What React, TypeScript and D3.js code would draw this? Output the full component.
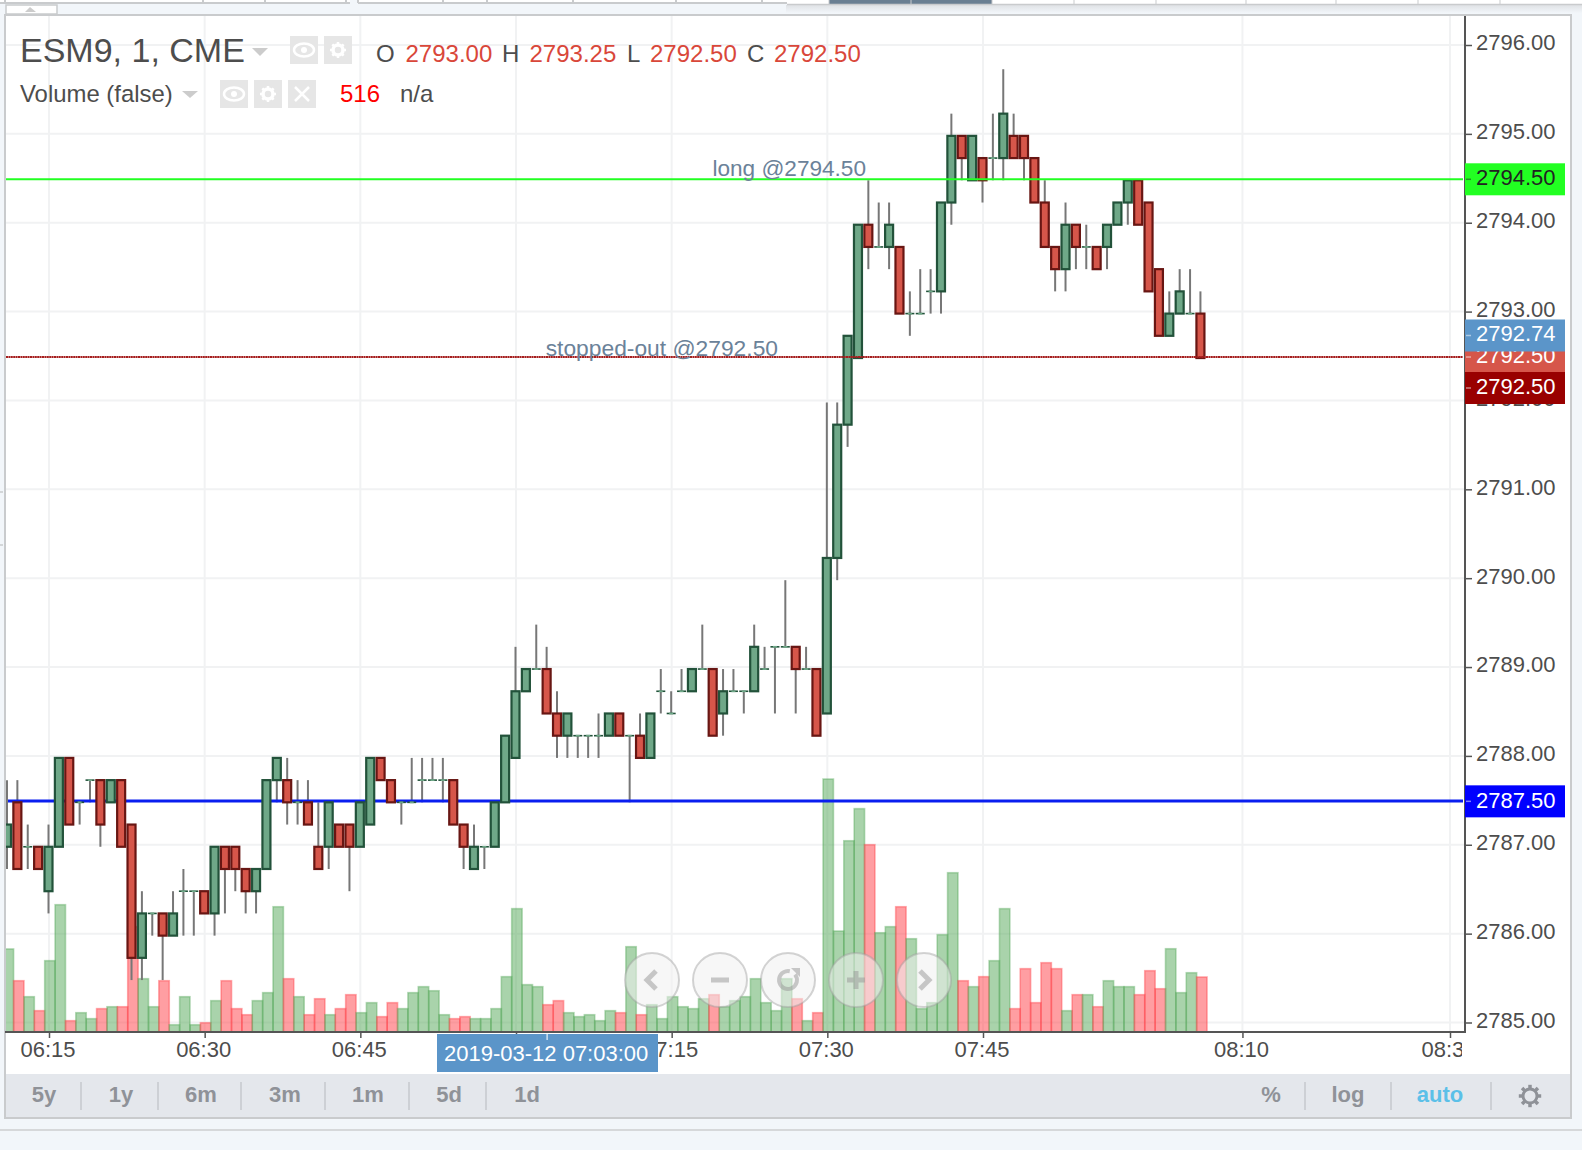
import React, { useEffect, useRef } from "react";
import * as d3 from "d3";

const FONT = "'Liberation Sans', Arial, sans-serif";

// first candle is 06:11, one bar per minute
const startTime = "2019-03-12T06:11:00Z";

const opens = [
  2787, 2787.5, 2787, 2787, 2786.5, 2787, 2788, 2787.5, 2787.75, 2787.75, 2787.5, 2787.75, 2787.25, 2785.75, 2786.25, 2786.25,
  2786, 2786.5, 2786.5, 2786.5, 2786.25, 2787, 2787, 2786.75, 2786.5, 2786.75, 2787.75, 2787.75, 2787.5, 2787.5, 2787, 2787,
  2787.25, 2787.25, 2787, 2787.25, 2788, 2787.75, 2787.5, 2787.5, 2787.75, 2787.75, 2787.75, 2787.75, 2787.25, 2786.75, 2787, 2787,
  2787.5, 2788, 2788.75, 2789, 2789, 2788.5, 2788.25, 2788.25, 2788.25, 2788.25, 2788.25, 2788.5, 2788.25, 2788.25, 2788, 2788.75,
  2788.5, 2788.75, 2788.75, 2789, 2789, 2788.5, 2788.75, 2788.75, 2788.75, 2789, 2789.25, 2789.25, 2789.25, 2789, 2789, 2788.5,
  2790.25, 2791.75, 2792.5, 2794, 2793.75, 2793.75, 2793.75, 2793, 2793, 2793.25, 2793.25, 2794.25, 2795, 2794.5, 2794.75, 2794.75,
  2794.75, 2795, 2795, 2794.75, 2794.25, 2793.75, 2793.5, 2794, 2793.75, 2793.75, 2793.75, 2794, 2794.25, 2794.5, 2794.25, 2793.5,
  2792.75, 2793, 2793, 2793,
];
const highs = [
  2787.75, 2787.75, 2787.25, 2787, 2787.25, 2788, 2788, 2787.5, 2787.75, 2787.75, 2787.75, 2787.75, 2787.25, 2786.5, 2786.25, 2786.25,
  2786.5, 2786.75, 2786.5, 2786.5, 2787, 2787, 2787, 2786.75, 2786.75, 2787.75, 2788, 2788, 2787.75, 2787.75, 2787.5, 2787.5,
  2787.25, 2787.25, 2787.5, 2788, 2788, 2787.75, 2787.5, 2788, 2788, 2788, 2788, 2787.75, 2787.25, 2787.25, 2787, 2787.5,
  2788.25, 2789.25, 2789, 2789.5, 2789.25, 2788.75, 2788.5, 2788.25, 2788.25, 2788.5, 2788.5, 2788.5, 2788.25, 2788.5, 2788.5, 2789,
  2788.75, 2789, 2789, 2789.5, 2789, 2789, 2789, 2788.75, 2789.5, 2789.25, 2789.25, 2790, 2789.25, 2789.25, 2789, 2792,
  2792, 2792.75, 2794, 2794.5, 2794.25, 2794.25, 2793.75, 2793.25, 2793.5, 2793.5, 2794.25, 2795.25, 2795, 2795, 2794.75, 2795.25,
  2795.75, 2795.25, 2795, 2794.75, 2794.5, 2793.75, 2794.25, 2794, 2794, 2793.75, 2794, 2794.25, 2794.5, 2794.5, 2794.25, 2793.5,
  2793.25, 2793.5, 2793.5, 2793.25,
];
const lows = [
  2786.75, 2786.75, 2786.75, 2786.75, 2786.25, 2787, 2787.25, 2787.25, 2787.5, 2787, 2787.5, 2787, 2785.5, 2785.5, 2786, 2785.5,
  2786, 2786, 2786, 2786.25, 2786, 2786.25, 2786.5, 2786.25, 2786.25, 2786.75, 2787.5, 2787.25, 2787.25, 2787.25, 2786.75, 2786.75,
  2787, 2786.5, 2787, 2787.25, 2787.75, 2787.5, 2787.25, 2787.5, 2787.5, 2787.75, 2787.5, 2787.25, 2786.75, 2786.75, 2786.75, 2787,
  2787.5, 2788, 2788.75, 2789, 2788.5, 2788, 2788, 2788, 2788, 2788, 2788.25, 2788.25, 2787.5, 2788, 2788, 2788.5,
  2788.5, 2788.75, 2788.75, 2789, 2788.25, 2788.25, 2788.75, 2788.5, 2788.75, 2789, 2788.5, 2789.25, 2788.5, 2789, 2788.25, 2788.5,
  2790, 2791.5, 2792.5, 2793.5, 2793.75, 2793.5, 2793, 2792.75, 2793, 2793, 2793, 2794, 2794.5, 2794.5, 2794.25, 2794.5,
  2794.5, 2794.75, 2794.5, 2794.25, 2793.75, 2793.25, 2793.25, 2793.5, 2793.5, 2793.5, 2793.5, 2794, 2794, 2794, 2793.25, 2792.75,
  2792.75, 2793, 2793, 2792.5,
];
const closes = [
  2787.25, 2786.75, 2787, 2786.75, 2787, 2788, 2787.25, 2787.5, 2787.75, 2787.25, 2787.75, 2787, 2785.75, 2786.25, 2786.25, 2786,
  2786.25, 2786.5, 2786.5, 2786.25, 2787, 2786.75, 2786.75, 2786.5, 2786.75, 2787.75, 2788, 2787.5, 2787.5, 2787.25, 2786.75, 2787.5,
  2787, 2787, 2787.5, 2788, 2787.75, 2787.5, 2787.5, 2787.5, 2787.75, 2787.75, 2787.75, 2787.25, 2787, 2787, 2787, 2787.5,
  2788.25, 2788.75, 2789, 2789, 2788.5, 2788.25, 2788.5, 2788.25, 2788.25, 2788.25, 2788.5, 2788.25, 2788.25, 2788, 2788.5, 2788.75,
  2788.5, 2788.75, 2789, 2789, 2788.25, 2788.75, 2788.75, 2788.75, 2789.25, 2789, 2789.25, 2789.25, 2789, 2789, 2788.25, 2790.25,
  2791.75, 2792.75, 2794, 2793.75, 2793.75, 2794, 2793, 2793, 2793, 2793.25, 2794.25, 2795, 2794.75, 2795, 2794.5, 2794.75,
  2795.25, 2794.75, 2794.75, 2794.25, 2793.75, 2793.5, 2794, 2793.75, 2793.75, 2793.5, 2794, 2794.25, 2794.5, 2794, 2793.25, 2792.75,
  2793, 2793.25, 2793, 2792.5,
];
const volumes = [
  779, 481, 331, 200, 669, 1194, 106, 181, 125, 219, 237, 237, 988, 500, 237, 481,
  68, 331, 68, 87, 294, 481, 219, 162, 294, 369, 1175, 500, 331, 162, 312, 162,
  219, 350, 181, 275, 144, 275, 219, 369, 425, 387, 162, 125, 144, 125, 125, 219,
  519, 1157, 444, 425, 256, 294, 181, 144, 162, 106, 200, 181, 800, 162, 256, 125,
  331, 237, 219, 312, 350, 237, 294, 331, 500, 275, 200, 500, 312, 106, 181, 2373,
  947, 1794, 2095, 1757, 931, 988, 1175, 875, 219, 275, 913, 1494, 481, 425, 519, 669,
  1157, 219, 594, 275, 650, 594, 200, 350, 350, 237, 481, 425, 425, 350, 575, 406,
  781, 369, 556, 516,
];

const priceTicks = [2785, 2786, 2787, 2788, 2789, 2790, 2791, 2792, 2793, 2794, 2795, 2796];
const timeTicks = ["06:15", "06:30", "06:45", "07:00", "07:15", "07:30", "07:45", "08:10", "08:30"];
const rangeButtons = ["5y", "1y", "6m", "3m", "1m", "5d", "1d"];
const rangeButtonX = [44, 121, 201, 285, 368, 449, 527];
const rangeDividerX = [81, 158, 241, 325, 409, 486];
const ohlcLabels = ["O", "H", "L", "C"];
const ohlcValues = ["2793.00", "2793.25", "2792.50", "2792.50"];
const navIcons = ["prev", "minus", "reset", "plus", "next"];

const toDate = (hhmm: string) => new Date(`2019-03-12T${hhmm}:00Z`);

const App: React.FC = () => {
  const svgRef = useRef<SVGSVGElement | null>(null);

  useEffect(() => {
    if (!svgRef.current) return;
    const svg = d3.select(svgRef.current);
    svg.selectAll("*").remove();
    svg.style("font-family", FONT);

    const panel = { left: 5, right: 1571, top: 15, bottom: 1118 };
    const plot = { left: 6, right: 1465, top: 16, bottom: 1032 };

    const x = d3.scaleUtc().domain([toDate("06:15"), toDate("07:45")]).range([49, 983]);
    const y = d3.scaleLinear().domain([2785, 2796]).range([1022.5, 45]);
    const vol = d3.scaleLinear().domain([0, 2400]).range([plot.bottom, plot.bottom - 2400 / 9.38]);

    const t0 = new Date(startTime).getTime();
    const bars = opens.map((o, i) => ({
      time: new Date(t0 + i * 60000),
      o,
      h: highs[i],
      l: lows[i],
      c: closes[i],
      v: volumes[i],
      up: closes[i] >= o,
    }));

    // page + panel frame
    svg.append("rect").attr("width", 1582).attr("height", 1150).attr("fill", "#f2f6fa");
    svg.append("line").attr("x1", 0).attr("x2", 1582).attr("y1", 1130).attr("y2", 1130)
      .attr("stroke", "#d6d8da").attr("stroke-width", 2);
    svg.append("rect").attr("x", panel.left).attr("y", panel.top)
      .attr("width", panel.right - panel.left).attr("height", panel.bottom - panel.top)
      .attr("fill", "#fff").attr("stroke", "#c9cbcd").attr("stroke-width", 2);

    // strip of toolbar tabs cut off at the top
    const defs = svg.append("defs");
    const shadow = defs.append("linearGradient").attr("id", "tab-shadow").attr("x1", 0).attr("x2", 0).attr("y1", 0).attr("y2", 1);
    shadow.append("stop").attr("offset", "0%").attr("stop-color", "#dfe2e5");
    shadow.append("stop").attr("offset", "100%").attr("stop-color", "#f2f6fa");
    svg.append("line").attr("x1", 0).attr("x2", 350).attr("y1", 3).attr("y2", 3).attr("stroke", "#c9cbcd").attr("stroke-width", 2);
    svg.append("line").attr("x1", 358).attr("x2", 787).attr("y1", 3).attr("y2", 3).attr("stroke", "#c9cbcd").attr("stroke-width", 2);
    svg.append("rect").attr("x", 0).attr("y", 0).attr("width", 350).attr("height", 2).attr("fill", "#fff");
    svg.append("rect").attr("x", 358).attr("y", 0).attr("width", 429).attr("height", 2).attr("fill", "#fff");
    [5, 203, 265, 346, 358, 443, 487, 573, 676, 762].forEach(px => {
      svg.append("line").attr("x1", px).attr("x2", px).attr("y1", 0).attr("y2", 3).attr("stroke", "#c9cbcd").attr("stroke-width", 2);
    });
    svg.append("rect").attr("x", 786).attr("y", 5).attr("width", 796).attr("height", 8).attr("fill", "url(#tab-shadow)");
    svg.append("rect").attr("x", 787).attr("y", 0).attr("width", 795).attr("height", 4).attr("fill", "#fff");
    svg.append("rect").attr("x", 829).attr("y", 0).attr("width", 163).attr("height", 4).attr("fill", "#6a7f92");
    svg.append("line").attr("x1", 787).attr("x2", 1582).attr("y1", 4.5).attr("y2", 4.5).attr("stroke", "#c9cbcd").attr("stroke-width", 1.5);
    [829, 911, 992, 1074, 1156, 1246, 1336, 1418, 1500].forEach(px => {
      svg.append("line").attr("x1", px).attr("x2", px).attr("y1", 0).attr("y2", 4).attr("stroke", "#c9cbcd");
    });
    svg.append("rect").attr("x", 6).attr("y", 5).attr("width", 51).attr("height", 9).attr("fill", "#fff").attr("stroke", "#c9cbcd").attr("stroke-width", 1.5);
    svg.append("path").attr("d", "M25,12 L30,7 L36,12 Z").attr("fill", "#ccc");
    svg.append("line").attr("x1", 0).attr("x2", 3).attr("y1", 492).attr("y2", 492).attr("stroke", "#c9cbcd").attr("stroke-width", 1.5);
    svg.append("line").attr("x1", 0).attr("x2", 3).attr("y1", 545).attr("y2", 545).attr("stroke", "#c9cbcd").attr("stroke-width", 1.5);

    defs.append("clipPath").attr("id", "plot-clip").append("rect")
      .attr("x", plot.left).attr("y", plot.top).attr("width", plot.right - plot.left).attr("height", plot.bottom - plot.top);
    defs.append("clipPath").attr("id", "time-clip").append("rect")
      .attr("x", plot.left).attr("y", plot.bottom).attr("width", 1462 - plot.left).attr("height", 50);

    // grid
    const grid = svg.append("g");
    grid.selectAll("line.h").data(priceTicks).join("line").attr("class", "h")
      .attr("x1", plot.left).attr("x2", plot.right).attr("y1", d => y(d)).attr("y2", d => y(d))
      .attr("stroke", "#f1f2f3").attr("stroke-width", 2);
    grid.selectAll("line.v").data(timeTicks).join("line").attr("class", "v")
      .attr("x1", d => x(toDate(d))).attr("x2", d => x(toDate(d))).attr("y1", plot.top).attr("y2", plot.bottom)
      .attr("stroke", "#f1f2f3").attr("stroke-width", 2);

    const chart = svg.append("g").attr("clip-path", "url(#plot-clip)");

    // volume
    chart.append("g").selectAll("rect").data(bars).join("rect")
      .attr("x", d => x(d.time) - 4.3)
      .attr("y", d => vol(d.v))
      .attr("width", 10.4)
      .attr("height", d => plot.bottom - vol(d.v) + 3)
      .attr("fill", d => (d.up ? "rgba(84,168,88,0.5)" : "rgba(255,62,70,0.5)"))
      .attr("stroke", d => (d.up ? "rgba(84,168,88,0.42)" : "rgba(255,62,70,0.42)"))
      .attr("stroke-width", 1.6);

    // horizontal levels
    const level = (p: number, color: string, w: number, dash?: string, dy = 0) => {
      const l = svg.append("line").attr("x1", p === 2787.5 ? 8 : plot.left).attr("x2", 1463)
        .attr("y1", y(p) + dy).attr("y2", y(p) + dy).attr("stroke", color).attr("stroke-width", w);
      if (dash) l.attr("stroke-dasharray", dash);
    };

    // candles
    const yOff = 2;
    const candles = svg.append("g").attr("clip-path", "url(#plot-clip)");
    candles.selectAll("line.wick").data(bars).join("line").attr("class", "wick")
      .attr("x1", d => x(d.time) - 0.5).attr("x2", d => x(d.time) - 0.5)
      .attr("y1", d => y(d.h) + yOff).attr("y2", d => y(d.l) + yOff)
      .attr("stroke", "#777").attr("stroke-width", 2);
    level(2787.5, "#0a1ef0", 3, undefined, 0.6);
    const bodies = svg.append("g").attr("clip-path", "url(#plot-clip)");
    const solid = bars.filter(d => d.o !== d.c);
    const doji = bars.filter(d => d.o === d.c);
    bodies.selectAll("rect.body").data(solid).join("rect").attr("class", "body")
      .attr("x", d => x(d.time) - 4.5)
      .attr("y", d => y(Math.max(d.o, d.c)) + yOff)
      .attr("width", 8)
      .attr("height", d => Math.abs(y(d.o) - y(d.c)))
      .attr("fill", d => (d.up ? "#6fa888" : "#d6564a"))
      .attr("stroke", d => (d.up ? "#22523a" : "#681613"))
      .attr("stroke-width", 2.2);
    bodies.selectAll("line.doji").data(doji).join("line").attr("class", "doji")
      .attr("x1", d => x(d.time) - 5).attr("x2", d => x(d.time) + 4)
      .attr("y1", d => y(d.o) + yOff).attr("y2", d => y(d.o) + yOff)
      .attr("stroke", "#22523a").attr("stroke-width", 1.6);
    bodies.selectAll("line.dojiIn").data(doji).join("line").attr("class", "dojiIn")
      .attr("x1", d => x(d.time) - 2.5).attr("x2", d => x(d.time) + 1.5)
      .attr("y1", d => y(d.o) + yOff).attr("y2", d => y(d.o) + yOff)
      .attr("stroke", "#6fa888").attr("stroke-width", 1.8);

    level(2794.5, "#22ff22", 2, undefined, 1);
    level(2792.5, "#a51d1d", 2, "2 0.4", 1);

    svg.append("text").attr("x", 866).attr("y", 176).attr("text-anchor", "end")
      .attr("font-size", 22.6).attr("fill", "#6b8299").text("long @2794.50");
    svg.append("text").attr("x", 778).attr("y", 356).attr("text-anchor", "end")
      .attr("font-size", 22.8).attr("fill", "#6b8299").text("stopped-out @2792.50");

    // axes
    const yAxis = svg.append("g").attr("transform", `translate(${plot.right},0)`)
      .call(d3.axisRight(y).tickValues(priceTicks).tickFormat(d => d3.format(".2f")(d as number)).tickSize(7).tickPadding(4));
    yAxis.select(".domain").attr("d", `M0,${plot.top}V${plot.bottom}`).attr("stroke", "#555").attr("stroke-width", 2);
    yAxis.selectAll(".tick line").attr("stroke", "#555").attr("stroke-width", 1.5);
    yAxis.selectAll(".tick text").attr("font-family", FONT).attr("font-size", 22).attr("fill", "#4d4d4d").attr("dy", "0.22em");

    const xAxisWrap = svg.append("g").attr("clip-path", "url(#time-clip)");
    const xAxis = xAxisWrap.append("g").attr("transform", `translate(0,${plot.bottom})`)
      .call(d3.axisBottom(x).tickValues(timeTicks.map(toDate)).tickFormat(d => d3.utcFormat("%H:%M")(d as Date)).tickSize(6).tickPadding(3));
    xAxis.select(".domain").remove();
    xAxis.selectAll(".tick line").attr("stroke", "#555").attr("stroke-width", 1.5);
    xAxis.selectAll(".tick text").attr("font-family", FONT).attr("font-size", 22).attr("fill", "#4d4d4d").attr("dx", -1.5);
    svg.append("line").attr("x1", panel.left).attr("x2", plot.right + 1).attr("y1", plot.bottom).attr("y2", plot.bottom)
      .attr("stroke", "#555").attr("stroke-width", 2);

    // price flags on the axis
    const flag = (cy: number, fill: string, label: string, color = "#fff", textDy = 5.5) => {
      const g = svg.append("g");
      g.append("rect").attr("x", plot.right).attr("y", cy - 16).attr("width", 100).attr("height", 32).attr("fill", fill);
      g.append("line").attr("x1", plot.right + 1).attr("x2", plot.right + 6).attr("y1", cy).attr("y2", cy)
        .attr("stroke", color).attr("stroke-opacity", 0.5).attr("stroke-width", 1.5);
      g.append("text").attr("x", plot.right + 11).attr("y", cy + textDy).attr("font-size", 22).attr("fill", color).text(label);
    };
    flag(y(2794.5) + 1, "#22ff22", "2794.50", "#222");
    flag(y(2787.5) + 1, "#0000ff", "2787.50", "#fff", 6.5);
    flag(y(2792.5) + 1, "#d6564a", "2792.50");
    flag(388, "#990000", "2792.50");
    flag(335.5, "#5b95c9", "2792.74");

    // crosshair time flag
    const crossX = x(toDate("07:03"));
    svg.append("rect").attr("x", 437).attr("y", 1034).attr("width", 221).attr("height", 38).attr("fill", "#5b95c9");
    svg.append("line").attr("x1", crossX).attr("x2", crossX).attr("y1", 1034).attr("y2", 1040).attr("stroke", "#cfe0f0").attr("stroke-width", 1.5);
    svg.append("text").attr("x", 444).attr("y", 1061).attr("font-size", 22).attr("fill", "#fff").text("2019-03-12 07:03:00");

    // legend
    const legend = svg.append("g");
    legend.append("text").attr("x", 20).attr("y", 62).attr("font-size", 34).attr("fill", "#4d4d4d").text("ESM9, 1, CME");
    legend.append("path").attr("d", "M252,48 H268 L260,56 Z").attr("fill", "#ccc");
    legend.append("text").attr("x", 20).attr("y", 102).attr("font-size", 23.9).attr("fill", "#4d4d4d").text("Volume (false)");
    legend.append("path").attr("d", "M182,91 H198 L190,98 Z").attr("fill", "#ccc");

    const ohlcX = [376, 502, 627, 747];
    const valueX = [405.5, 529.5, 650, 774];
    ohlcLabels.forEach((l, i) => {
      legend.append("text").attr("x", ohlcX[i]).attr("y", 62).attr("font-size", 24).attr("fill", "#4d4d4d").text(l);
      legend.append("text").attr("x", valueX[i]).attr("y", 62).attr("font-size", 24).attr("fill", "#d9473a").text(ohlcValues[i]);
    });
    legend.append("text").attr("x", 340).attr("y", 102).attr("font-size", 24).attr("fill", "#ff0000").text("516");
    legend.append("text").attr("x", 400).attr("y", 102).attr("font-size", 24).attr("fill", "#4d4d4d").text("n/a");

    const gear = (g: d3.Selection<any, unknown, null, undefined>, cx: number, cy: number, r: number, color: string, ring = 0.7) => {
      g.append("circle").attr("cx", cx).attr("cy", cy).attr("r", r).attr("fill", "none")
        .attr("stroke", color).attr("stroke-width", r * ring);
      d3.range(8).forEach(i => {
        const a = (i * Math.PI) / 4;
        g.append("line")
          .attr("x1", cx + Math.cos(a) * r).attr("y1", cy + Math.sin(a) * r)
          .attr("x2", cx + Math.cos(a) * (r * 1.6)).attr("y2", cy + Math.sin(a) * (r * 1.6))
          .attr("stroke", color).attr("stroke-width", r * 0.5);
      });
    };
    const eye = (g: d3.Selection<any, unknown, null, undefined>, cx: number, cy: number) => {
      g.append("ellipse").attr("cx", cx).attr("cy", cy).attr("rx", 10).attr("ry", 6.5).attr("fill", "none").attr("stroke", "#fff").attr("stroke-width", 2.5);
      g.append("circle").attr("cx", cx).attr("cy", cy).attr("r", 3).attr("fill", "#fff");
    };
    const iconBox = (cx: number, cy: number) => legend.append("rect").attr("x", cx - 14).attr("y", cy - 14)
      .attr("width", 28).attr("height", 28).attr("fill", "#e6e6e6");
    iconBox(304, 50); eye(legend, 304, 50);
    iconBox(338, 50); gear(legend, 338, 50, 5, "#fff");
    iconBox(234, 94); eye(legend, 234, 94);
    iconBox(268, 94); gear(legend, 268, 94, 5, "#fff");
    iconBox(302, 94);
    legend.append("path").attr("d", "M295,87 L309,101 M309,87 L295,101").attr("stroke", "#fff").attr("stroke-width", 2.5);

    // zoom / pan buttons over the volume
    const navX = d3.scalePoint<string>().domain(navIcons).range([652, 924]);
    const navY = 980;
    const iconColor = "rgba(150,150,150,0.5)";
    navIcons.forEach(name => {
      const cx = navX(name) ?? 0;
      const g = svg.append("g");
      g.append("circle").attr("cx", cx).attr("cy", navY).attr("r", 27)
        .attr("fill", "rgba(240,240,240,0.55)").attr("stroke", "rgba(160,160,160,0.45)").attr("stroke-width", 2);
      const stroke = (d: string, w = 5) => g.append("path").attr("d", d).attr("fill", "none").attr("stroke", iconColor).attr("stroke-width", w);
      if (name === "prev") stroke(`M${cx + 4},${navY - 9} L${cx - 5},${navY} L${cx + 4},${navY + 9}`);
      if (name === "next") stroke(`M${cx - 4},${navY - 9} L${cx + 5},${navY} L${cx - 4},${navY + 9}`);
      if (name === "minus") stroke(`M${cx - 9},${navY} H${cx + 9}`);
      if (name === "plus") stroke(`M${cx - 9},${navY} H${cx + 9} M${cx},${navY - 9} V${navY + 9}`);
      if (name === "reset") {
        g.append("path").attr("d", d3.arc()({ innerRadius: 7, outerRadius: 11, startAngle: 0.9, endAngle: 2 * Math.PI + 0.2 }) as string)
          .attr("transform", `translate(${cx},${navY})`).attr("fill", iconColor);
        g.append("path").attr("d", `M${cx + 3},${navY - 12} L${cx + 12},${navY - 12} L${cx + 12},${navY - 3} Z`).attr("fill", iconColor);
      }
    });

    // range bar
    const bar = svg.append("g");
    bar.append("rect").attr("x", panel.left + 1).attr("y", 1074).attr("width", panel.right - panel.left - 2).attr("height", 43).attr("fill", "#e4e7ec");
    const barText = (tx: number, label: string, color = "#8f9298") =>
      bar.append("text").attr("x", tx).attr("y", 1102).attr("text-anchor", "middle").attr("font-size", 22)
        .attr("font-weight", "bold").attr("fill", color).text(label);
    rangeButtons.forEach((b, i) => barText(rangeButtonX[i], b));
    rangeDividerX.concat([1305, 1391, 1491]).forEach(px => {
      bar.append("line").attr("x1", px).attr("x2", px).attr("y1", 1082).attr("y2", 1110).attr("stroke", "#cdd0d5").attr("stroke-width", 2);
    });
    barText(1271, "%");
    barText(1348, "log");
    barText(1440, "auto", "#5bc0e8");
    gear(bar, 1530, 1096, 7, "#8f9298", 0.42);
  }, []);

  return <svg ref={svgRef} width={1582} height={1150} style={{ position: "fixed", left: 0, top: 0, display: "block" }} />;
};

export default App;
